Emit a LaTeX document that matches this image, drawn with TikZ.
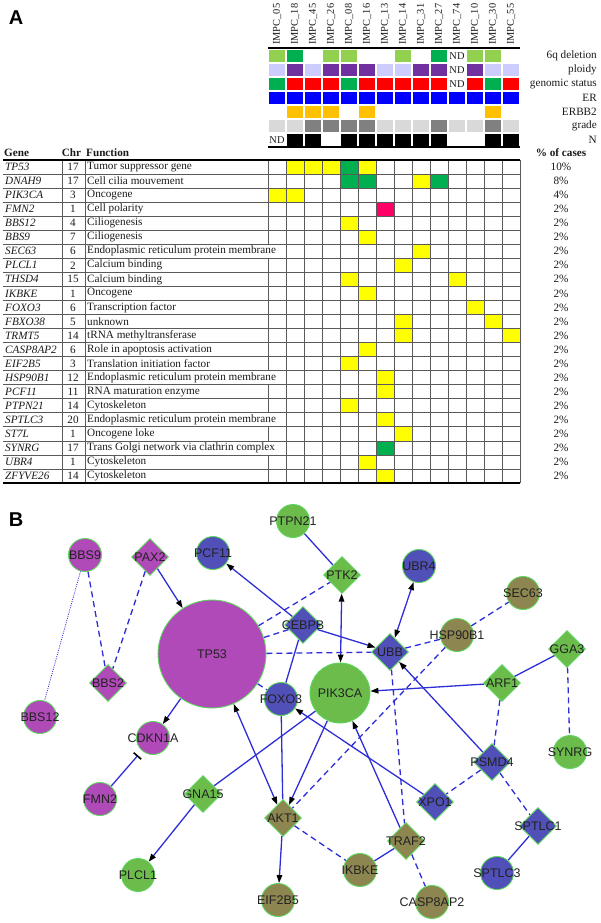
\documentclass[tikz,border=0pt]{standalone}
\usepackage{fontspec}
\setmainfont{Liberation Serif}
\setsansfont{Liberation Sans}
\usepackage{tikz}
\usetikzlibrary{positioning,arrows.meta,shapes.geometric,calc,backgrounds}
% annotation tracks
\definecolor{sixqlight}{HTML}{92D050}
\definecolor{sixqdark}{HTML}{00B050}
\definecolor{ploidylow}{HTML}{CCCCFF}
\definecolor{ploidyhigh}{HTML}{7030A0}
\definecolor{statgreen}{HTML}{00B050}
\definecolor{statred}{HTML}{FF0000}
\definecolor{erblue}{HTML}{0000FF}
\definecolor{erbborange}{HTML}{FFC000}
\definecolor{gradelight}{HTML}{D9D9D9}
\definecolor{gradedark}{HTML}{808080}
% mutation grid
\definecolor{mutyellow}{HTML}{FFFF00}
\definecolor{mutgreen}{HTML}{00B050}
\definecolor{mutpink}{HTML}{FF0066}
\definecolor{gridline}{HTML}{5A5A5A}
\definecolor{tabink}{HTML}{1A1A1A}
% network
\definecolor{netmagenta}{HTML}{B04AB8}
\definecolor{netblue}{HTML}{5050B8}
\definecolor{netgreen}{HTML}{6CBC4C}
\definecolor{netolive}{HTML}{8E8650}
\definecolor{netrim}{HTML}{5CD65C}
\definecolor{netink}{HTML}{222222}
\definecolor{edgeblue}{HTML}{2E2ED8}
\newcommand{\tabfont}{\fontsize{11.2}{12}\selectfont}
\newcommand{\smpfont}{\fontsize{10.4}{12}\selectfont}
\newcommand{\netfont}{\fontsize{12.5}{14}\sffamily}
\newcommand{\panelfont}{\fontsize{20}{24}\sffamily\bfseries}
\tikzset{
    panellabel/.style={font=\panelfont, inner sep=0pt},
    samplelabel/.style={font=\smpfont, text=tabink, rotate=90, anchor=west, inner sep=1pt},
    tracklabel/.style={font=\tabfont, text=tabink, anchor=east, inner sep=0pt},
    ndlabel/.style={font=\smpfont, text=tabink, inner sep=0pt},
    tabhead/.style={font=\tabfont\bfseries, text=tabink, inner sep=0pt},
    genecell/.style={font=\tabfont\itshape, text=tabink, anchor=west, inner sep=0pt},
    chrcell/.style={font=\tabfont, text=tabink, inner sep=0pt},
    funccell/.style={font=\tabfont, text=tabink, anchor=west, inner sep=0pt},
    pctcell/.style={font=\tabfont, text=tabink, inner sep=0pt},
    thickrule/.style={line width=1.4pt, draw=black},
    tabrule/.style={line width=0.6pt, draw=gridline},
    netlabel/.style={font=\netfont, text=netink, inner sep=0pt},
    netcircle/.style={circle, draw=netrim, line width=0.9pt,
        minimum size=33pt, inner sep=0pt, label={[netlabel]center:#1}},
    netdiamond/.style={diamond, aspect=1, draw=netrim, line width=0.9pt,
        minimum size=37pt, inner sep=0pt, label={[netlabel]center:#1}},
    netedge/.style={draw=edgeblue, line width=1.3pt},
    netdash/.style={netedge, dash pattern=on 6pt off 4pt},
    netdot/.style={draw=edgeblue, line width=0.8pt, dash pattern=on 1pt off 1.2pt},
    netarrow/.style={netedge, -{Triangle[length=8pt,width=5.5pt,black]}},
    netboth/.style={netedge, {Triangle[length=8pt,width=5.5pt,black]}-{Triangle[length=8pt,width=5.5pt,black]}},
    netinhib/.style={netedge, shorten >=6pt, -{Bar[width=10pt,line width=1.6pt,black]}},
}

\begin{document}
\begin{tikzpicture}[x=1pt,y=-1pt]
    \useasboundingbox (0,0) rectangle (600,923);

    % ---- panel A ----
    \node[panellabel] (labA) at (16,18) {A};

    \foreach \s [count=\j] in {05,18,45,26,08,16,13,14,31,27,74,10,30,55}
        \node[samplelabel] (smp\j) at (259+18*\j,46) {IMPC\_\s};

    % clinical tracks, one list per row
    \foreach \cols [count=\t] in {
        {sixqlight,sixqdark,white,sixqlight,sixqlight,white,white,sixqlight,white,sixqdark,white,sixqlight,sixqlight,white},
        {ploidylow,ploidyhigh,ploidylow,ploidyhigh,ploidyhigh,ploidyhigh,ploidylow,ploidylow,ploidyhigh,ploidyhigh,white,ploidyhigh,ploidylow,ploidylow},
        {statgreen,statred,statred,statred,statgreen,statred,statred,statred,statred,statred,white,statred,statgreen,statred},
        {erblue,erblue,erblue,erblue,erblue,erblue,erblue,erblue,erblue,erblue,erblue,erblue,erblue,erblue},
        {white,erbborange,erbborange,erbborange,white,erbborange,white,white,white,white,white,white,erbborange,white},
        {gradelight,gradelight,gradedark,gradedark,gradedark,gradedark,gradelight,gradelight,gradelight,gradedark,gradelight,gradelight,gradedark,gradelight},
        {white,black,black,white,black,black,black,black,black,black,white,white,black,black}}
        \foreach \c [count=\j] in \cols
            \fill[\c] (251+18*\j,36+14*\t) rectangle +(16,12);

    \foreach \name [count=\t] in {6q deletion,ploidy,genomic status,ER,ERBB2,grade,N}
        \node[tracklabel] (trk\t) at (597,42+14*\t) {\name};

    \node[ndlabel] (nd1) at (457,56) {ND};
    \node[ndlabel] (nd2) at (457,70) {ND};
    \node[ndlabel] (nd3) at (457,84) {ND};
    \node[ndlabel] (nd4) at (277,140) {ND};

    \draw[thickrule] (268,48) -- (520,48);
    \draw[thickrule] (268,147) -- (520,147);

    % gene table
    \node[tabhead, anchor=west] (hgene) at (4,153) {Gene};
    \node[tabhead] (hchr) at (71.5,153) {Chr};
    \node[tabhead, anchor=west] (hfunc) at (86,153) {Function};
    \node[tabhead] (hpct) at (561,153) {\% of cases};

    \foreach \r/\k/\c in {1/2/mutyellow,1/3/mutyellow,1/4/mutyellow,1/5/mutgreen,1/6/mutyellow,
        2/5/mutgreen,2/6/mutgreen,2/9/mutyellow,2/10/mutgreen,3/1/mutyellow,3/2/mutyellow,
        4/7/mutpink,5/5/mutyellow,6/6/mutyellow,7/9/mutyellow,8/8/mutyellow,9/5/mutyellow,
        9/11/mutyellow,10/6/mutyellow,11/12/mutyellow,12/8/mutyellow,12/13/mutyellow,
        13/8/mutyellow,13/14/mutyellow,14/6/mutyellow,15/5/mutyellow,16/7/mutyellow,
        17/7/mutyellow,18/5/mutyellow,19/7/mutyellow,20/8/mutyellow,21/7/mutgreen,
        22/6/mutyellow,23/7/mutyellow}
        \fill[\c] (250+18*\k,145.96+14.04*\r) rectangle +(18,14.04);

    \foreach \i in {1,...,22}
        \draw[tabrule] (3,160+14.04*\i) -- (520,160+14.04*\i);
    \foreach \x in {62,85,286,304,322,340,358,376,394,412,430,448,466,484,502,520}
        \draw[tabrule] (\x,160) -- (\x,483);
    \foreach \i in {1,2,3,4,5,6,8,9,10,11,12,13,14,15,17,18,20,22,23}
        \draw[tabrule] (268,145.96+14.04*\i) -- (268,160+14.04*\i);
    \draw[thickrule] (3,160) -- (520,160);
    \draw[thickrule] (3,483) -- (520,483);

    \foreach \g/\c/\f/\p [count=\i] in {
        TP53/17/Tumor suppressor gene/10\%,
        DNAH9/17/Cell cilia mouvement/8\%,
        PIK3CA/3/Oncogene/4\%,
        FMN2/1/Cell polarity/2\%,
        BBS12/4/Ciliogenesis/2\%,
        BBS9/7/Ciliogenesis/2\%,
        SEC63/6/Endoplasmic reticulum protein membrane/2\%,
        PLCL1/2/Calcium binding/2\%,
        THSD4/15/Calcium binding/2\%,
        IKBKE/1/Oncogene/2\%,
        FOXO3/6/Transcription factor/2\%,
        FBXO38/5/unknown/2\%,
        TRMT5/14/tRNA methyltransferase/2\%,
        CASP8AP2/6/Role in apoptosis activation/2\%,
        EIF2B5/3/Translation initiation factor/2\%,
        HSP90B1/12/Endoplasmic reticulum protein membrane/2\%,
        PCF11/11/RNA maturation enzyme/2\%,
        PTPN21/14/Cytoskeleton/2\%,
        SPTLC3/20/Endoplasmic reticulum protein membrane/2\%,
        ST7L/1/Oncogene loke/2\%,
        SYNRG/17/Trans Golgi network via clathrin complex/2\%,
        UBR4/1/Cytoskeleton/2\%,
        ZFYVE26/14/Cytoskeleton/2\%}
    {
        \node[genecell] (gene\i) at (5,152.98+14.04*\i) {\g};
        \node[chrcell] (chr\i) at (73,152.98+14.04*\i) {\c};
        \node[funccell] (func\i) at (87,152.98+14.04*\i) {\f};
        \node[pctcell] (pct\i) at (561,152.98+14.04*\i) {\p};
    }

    % ---- panel B ----
    \node[panellabel] (labB) at (16,520) {B};

    \node[netcircle=TP53, fill=netmagenta, minimum size=108pt] (tp53) at (212,654) {};
    \node[netcircle=BBS9, fill=netmagenta] (bbs9) at (85,555) {};
    \node[netdiamond=PAX2, fill=netmagenta] (pax2) at (150,557) {};
    \node[netdiamond=BBS2, fill=netmagenta] (bbs2) at (108,683) {};
    \node[netcircle=BBS12, fill=netmagenta] (bbs12) at (40,717) {};
    \node[netcircle=CDKN1A, fill=netmagenta] (cdkn1a) at (153,738) {};
    \node[netcircle=FMN2, fill=netmagenta] (fmn2) at (100,799) {};

    \node[netcircle=PCF11, fill=netblue] (pcf11) at (213,553) {};
    \node[netdiamond=CEBPB, fill=netblue] (cebpb) at (303,625) {};
    \node[netcircle=FOXO3, fill=netblue] (foxo3) at (281,699) {};
    \node[netcircle=UBR4, fill=netblue] (ubr4) at (419,566) {};
    \node[netdiamond=UBB, fill=netblue] (ubb) at (390,652) {};
    \node[netdiamond=PSMD4, fill=netblue] (psmd4) at (492,762) {};
    \node[netdiamond=XPO1, fill=netblue] (xpo1) at (435,802) {};
    \node[netdiamond=SPTLC1, fill=netblue] (sptlc1) at (538,826) {};
    \node[netcircle=SPTLC3, fill=netblue] (sptlc3) at (497,873) {};

    \node[netcircle=PTPN21, fill=netgreen] (ptpn21) at (293,521) {};
    \node[netdiamond=PTK2, fill=netgreen] (ptk2) at (342,575) {};
    \node[netcircle=PIK3CA, fill=netgreen, minimum size=60pt] (pik3ca) at (340,693) {};
    \node[netdiamond=GGA3, fill=netgreen] (gga3) at (567,649) {};
    \node[netdiamond=ARF1, fill=netgreen] (arf1) at (502,683) {};
    \node[netcircle=SYNRG, fill=netgreen] (synrg) at (570,752) {};
    \node[netdiamond=GNA15, fill=netgreen] (gna15) at (203,794) {};
    \node[netcircle=PLCL1, fill=netgreen] (plcl1) at (138,875) {};

    \node[netcircle=SEC63, fill=netolive] (sec63) at (523,593) {};
    \node[netcircle=HSP90B1, fill=netolive] (hsp90b1) at (457,635) {};
    \node[netdiamond=AKT1, fill=netolive] (akt1) at (283,818) {};
    \node[netcircle=EIF2B5, fill=netolive] (eif2b5) at (278,900) {};
    \node[netcircle=IKBKE, fill=netolive] (ikbke) at (360,870) {};
    \node[netdiamond=TRAF2, fill=netolive] (traf2) at (406,841) {};
    \node[netcircle=CASP8AP2, fill=netolive] (casp8ap2) at (432,902) {};

    \begin{scope}[on background layer]
        \draw[netdot] (bbs9) -- (bbs12);
        \draw[netdash] (bbs9) -- (bbs2);
        \draw[netdash] (pax2) -- (bbs2);
        \draw[netarrow] (pax2) -- (tp53);
        \draw[netarrow] (cebpb) -- (pcf11);
        \draw[netedge] (ptpn21) -- (ptk2);
        \draw[netdash] (tp53) -- (ptk2);
        \draw[netdash] (tp53) -- (cebpb);
        \draw[netdash] (tp53) -- (ubb);
        \draw[netdash] (tp53) -- (foxo3);
        \draw[netboth] (ptk2) -- (pik3ca);
        \draw[netboth] (ubr4) -- (ubb);
        \draw[netarrow] (cebpb) -- (ubb);
        \draw[netedge] (cebpb) -- (foxo3);
        \draw[netdash] (ubb) -- (hsp90b1);
        \draw[netdash] (hsp90b1) -- (sec63);
        \draw[netdash] (hsp90b1) -- (akt1);
        \draw[netarrow] (tp53) -- (cdkn1a);
        \draw[netinhib] (fmn2) -- (cdkn1a);
        \draw[netarrow] (gna15) -- (plcl1);
        \draw[netedge] (gna15) -- (pik3ca);
        \draw[netboth] (akt1) -- (tp53);
        \draw[netedge] (foxo3) -- (akt1);
        \draw[netarrow] (pik3ca) -- (akt1);
        \draw[netarrow] (akt1) -- (eif2b5);
        \draw[netdash] (akt1) -- (ikbke);
        \draw[netarrow] (traf2) -- (pik3ca);
        \draw[netedge] (traf2) -- (ikbke);
        \draw[netdash] (ubb) -- (traf2);
        \draw[netdash] (traf2) -- (casp8ap2);
        \draw[netarrow] (psmd4) -- (ubb);
        \draw[netarrow] (arf1) -- (pik3ca);
        \draw[netedge] (arf1) -- (gga3);
        \draw[netdash] (arf1) -- (psmd4);
        \draw[netdash] (gga3) -- (synrg);
        \draw[netdash] (psmd4) -- (xpo1);
        \draw[netdash] (psmd4) -- (sptlc1);
        \draw[netedge] (sptlc1) -- (sptlc3);
        \draw[netarrow] (xpo1) -- (foxo3);
    \end{scope}
\end{tikzpicture}
\end{document}
